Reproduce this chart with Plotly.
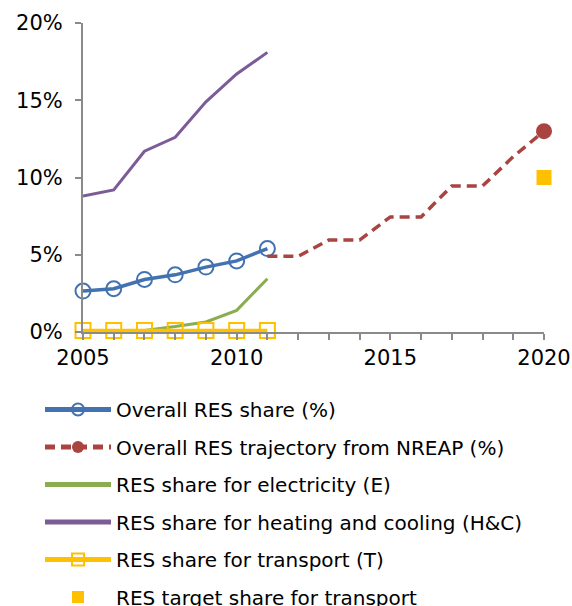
import plotly.graph_objects as go

# Datos (en %)
YEARS_HIST = [2005, 2006, 2007, 2008, 2009, 2010, 2011]
OVERALL = [2.65, 2.8, 3.4, 3.7, 4.2, 4.6, 5.4]
ELECTRICITY = [0.05, 0.05, 0.1, 0.35, 0.65, 1.4, 3.45]
HEATING = [8.8, 9.2, 11.7, 12.6, 14.9, 16.7, 18.1]
TRANSPORT = [0.1, 0.1, 0.1, 0.1, 0.1, 0.1, 0.1]

YEARS_NREAP = [2011, 2012, 2013, 2014, 2015, 2016, 2017, 2018, 2019, 2020]
NREAP = [4.9, 4.9, 5.95, 5.95, 7.45, 7.45, 9.45, 9.45, 11.35, 13.0]

TARGET_YEAR = [2020]
TARGET_T = [10.0]

BLUE = '#4272B0'
RED = '#A94440'
GREEN = '#8BAD52'
PURPLE = '#7B5C98'
YELLOW = '#FFC000'
AXIS = '#8A8A8A'
FONT = 'DejaVu Sans'

W, H = 572, 606

fig = go.Figure()

fig.add_trace(go.Scatter(
    x=YEARS_HIST, y=OVERALL, name='Overall RES share (%)', legendgroup='a',
    mode='lines+markers', line=dict(color=BLUE, width=3.5),
    marker=dict(symbol='circle-open', size=15, color=BLUE, line=dict(width=2)),
    cliponaxis=False
))

# Trayectoria NREAP: línea discontinua + punto final
fig.add_trace(go.Scatter(
    x=YEARS_NREAP, y=NREAP, showlegend=False, legendgroup='b',
    mode='lines', line=dict(color=RED, width=3.5, dash='10px,6px'),
    cliponaxis=False
))
fig.add_trace(go.Scatter(
    x=YEARS_NREAP[-1:], y=NREAP[-1:], name='Overall RES trajectory from NREAP (%)',
    legendgroup='b', mode='lines+markers',
    line=dict(color=RED, width=3.5, dash='10px,6px'),
    marker=dict(symbol='circle', size=16, color=RED),
    cliponaxis=False
))

fig.add_trace(go.Scatter(
    x=YEARS_HIST, y=ELECTRICITY, name='RES share for electricity (E)', legendgroup='c',
    mode='lines', line=dict(color=GREEN, width=3), cliponaxis=False
))
fig.add_trace(go.Scatter(
    x=YEARS_HIST, y=HEATING, name='RES share for heating and cooling (H&C)', legendgroup='d',
    mode='lines', line=dict(color=PURPLE, width=3), cliponaxis=False
))
fig.add_trace(go.Scatter(
    x=YEARS_HIST, y=TRANSPORT, name='RES share for transport (T)', legendgroup='e',
    mode='lines+markers', line=dict(color=YELLOW, width=3.5),
    marker=dict(symbol='square-open', size=15, color=YELLOW, line=dict(width=2)),
    cliponaxis=False
))
fig.add_trace(go.Scatter(
    x=TARGET_YEAR, y=TARGET_T, name='RES target share for transport', legendgroup='f',
    mode='markers', marker=dict(symbol='square', size=15, color=YELLOW),
    cliponaxis=False
))

fig.update_layout(
    width=W, height=H,
    margin=dict(l=83, r=28, t=23, b=274, autoexpand=False),
    plot_bgcolor='white', paper_bgcolor='white',
    font=dict(family=FONT, size=20, color='black'),
    xaxis=dict(
        range=[2005, 2020], tickmode='linear', tick0=2005, dtick=5,
        showgrid=False, zeroline=False, showline=True, linecolor=AXIS, linewidth=2,
        ticks='outside', ticklen=6, tickcolor=AXIS, tickwidth=2, automargin=False,
        minor=dict(dtick=1, tick0=2005, ticks='outside', ticklen=6, tickcolor=AXIS, tickwidth=2, showgrid=False),
        tickfont=dict(size=21)
    ),
    yaxis=dict(
        range=[0, 20], tickmode='linear', tick0=0, dtick=5, ticksuffix='%',
        showgrid=False, zeroline=False, showline=True, linecolor=AXIS, linewidth=2,
        ticks='outside', ticklen=6, tickcolor=AXIS, tickwidth=2, automargin=False,
        ticklabelstandoff=8, tickfont=dict(size=21)
    ),
    legend=dict(
        xref='container', yref='container', x=40 / W, y=1 - 390 / H,
        xanchor='left', yanchor='top', tracegroupgap=8.5, itemsizing='constant',
        itemwidth=66, font=dict(size=20), bgcolor='rgba(0,0,0,0)'
    ),
    showlegend=True
)

# quitar el margen de la página para que el gráfico ocupe toda la ventana
fig.write_html(
    "out.html",
    config={'displayModeBar': False},
    post_script="document.body.style.margin='0';document.body.style.overflow='hidden';"
)
